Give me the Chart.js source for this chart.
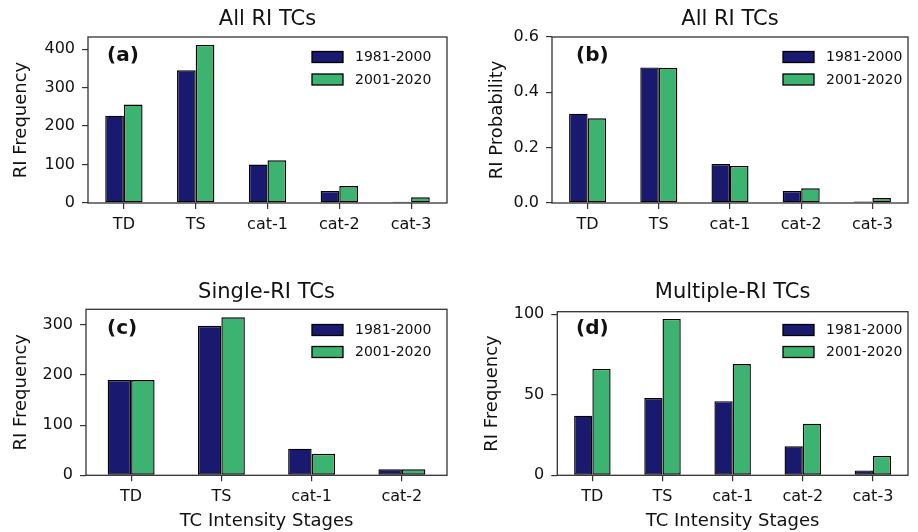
<!DOCTYPE html>
<html>
<head>
<meta charset="utf-8">
<script src="https://cdn.jsdelivr.net/npm/chart.js@4.4.0/dist/chart.umd.min.js"></script>
<style>
  body { margin: 0; background: #fff; }
  #wrap { position: relative; width: 918px; height: 532px; }
  #wrap canvas { position: absolute; }
</style>
</head>
<body>
<div id="wrap">
  <canvas id="panelA" width="460" height="266" style="left:0;top:0"></canvas>
  <canvas id="panelB" width="458" height="266" style="left:460px;top:0"></canvas>
  <canvas id="panelC" width="460" height="266" style="left:0;top:266px"></canvas>
  <canvas id="panelD" width="458" height="266" style="left:460px;top:266px"></canvas>
</div>
<script>
// data
const stages = ['TD', 'TS', 'cat-1', 'cat-2', 'cat-3'];
const stagesSingle = ['TD', 'TS', 'cat-1', 'cat-2'];
const periods = ['1981-2000', '2001-2020'];

const allFreq1981 = [227, 345, 100, 31, 3];
const allFreq2001 = [256, 411, 111, 44, 15];

const allProb1981 = [0.323, 0.490, 0.141, 0.043, 0.005];
const allProb2001 = [0.306, 0.489, 0.134, 0.053, 0.018];

const singleFreq1981 = [190, 298, 53, 12];
const singleFreq2001 = [190, 315, 43, 12];

const multiFreq1981 = [37, 48, 46, 18, 3];
const multiFreq2001 = [66, 97, 69, 32, 12];

// y tick values per panel
const allFreqTicks = [0, 100, 200, 300, 400];
const allProbTicks = [0, 0.2, 0.4, 0.6];
const singleTicks = [0, 100, 200, 300];
const multiTicks = [0, 50, 100];

const navy = '#191970';
const green = '#3cb371';

Chart.defaults.font.family = '"DejaVu Sans", sans-serif';
Chart.defaults.color = '#111';

// frame, panel tag and legend drawn inside the axes
const decor = {
    id: 'decor',
    afterDraw(chart, args, opts) {
        const ctx = chart.ctx;
        const a = chart.chartArea;
        ctx.save();
        ctx.strokeStyle = '#333';
        ctx.lineWidth = 1.3;
        ctx.strokeRect(a.left, a.top, a.right - a.left, a.bottom - a.top);

        ctx.fillStyle = '#111';
        ctx.textAlign = 'left';
        ctx.textBaseline = 'middle';
        ctx.font = 'bold 20px "DejaVu Sans"';
        ctx.fillText(opts.tag, opts.tagX, opts.tagY);

        ctx.font = '14px "DejaVu Sans"';
        chart.data.datasets.forEach((ds, i) => {
            const y = opts.legendY[i];
            ctx.fillStyle = ds.backgroundColor;
            ctx.fillRect(opts.legendX, y - 5.5, 31, 11);
            ctx.strokeStyle = '#000';
            ctx.lineWidth = 1.3;
            ctx.strokeRect(opts.legendX, y - 5.5, 31, 11);
            ctx.fillStyle = '#111';
            ctx.fillText(ds.label, opts.legendX + 43, y + 0.5);
        });
        ctx.restore();
    }
};

function makePanel(id, p) {
    const ctx = document.getElementById(id).getContext('2d');
    return new Chart(ctx, {
        type: 'bar',
        data: {
            labels: p.labels,
            datasets: [
                { label: periods[0], data: p.first, backgroundColor: navy },
                { label: periods[1], data: p.second, backgroundColor: green }
            ]
        },
        options: {
            responsive: false,
            animation: false,
            devicePixelRatio: 1,
            categoryPercentage: 0.52,
            barPercentage: 1.0,
            datasets: {
                bar: { borderColor: '#000', borderWidth: 1.4, borderSkipped: false }
            },
            layout: { padding: { left: 0, right: p.padRight, top: 0, bottom: 0 } },
            scales: {
                x: {
                    offset: true,
                    grid: { display: true, drawOnChartArea: false, drawTicks: true, tickLength: 6, offset: false, color: '#333', lineWidth: 1.2 },
                    border: { display: false },
                    ticks: { font: { size: 16 }, padding: 6, color: '#111' },
                    title: { display: !!p.xTitle, text: p.xTitle || '', font: { size: 18 }, padding: { top: 0, bottom: 0 }, color: '#111' },
                    afterFit: (s) => { s.height = p.xHeight; }
                },
                y: {
                    min: 0,
                    max: p.yMax,
                    grid: { display: true, drawOnChartArea: false, drawTicks: true, tickLength: 6, color: '#333', lineWidth: 1.2 },
                    border: { display: false },
                    ticks: {
                        font: { size: 16 },
                        padding: 7,
                        color: '#111',
                        callback: p.yFormat
                    },
                    afterBuildTicks: (s) => { s.ticks = p.yTicks.map(v => ({ value: v })); },
                    title: { display: true, text: p.yTitle, font: { size: 18 }, padding: { top: p.yTitlePad, bottom: 0 }, color: '#111' },
                    afterFit: (s) => { s.width = p.yWidth; }
                }
            },
            plugins: {
                legend: { display: false },
                tooltip: { enabled: false },
                title: {
                    display: true,
                    text: p.title,
                    fullSize: false,
                    font: { size: 21, weight: 'normal' },
                    color: '#111',
                    padding: { top: p.titleTop, bottom: p.titleBottom }
                },
                decor: { tag: p.tag, tagX: p.tagX, tagY: p.tagY, legendX: p.legendX, legendY: p.legendY }
            }
        },
        plugins: [decor]
    });
}

document.addEventListener('DOMContentLoaded', function() {
    // (a) All RI TCs, frequency
    makePanel('panelA', {
        labels: stages, first: allFreq1981, second: allFreq2001,
        title: 'All RI TCs', yTitle: 'RI Frequency', tag: '(a)',
        yMax: 431.5, yTicks: allFreqTicks, yFormat: (v) => v,
        yWidth: 88, yTitlePad: 11, xHeight: 63, padRight: 13,
        titleTop: 6.8, titleBottom: 5,
        tagX: 107, tagY: 56, legendX: 312, legendY: [57, 79.5]
    });

    // (b) All RI TCs, probability
    makePanel('panelB', {
        labels: stages, first: allProb1981, second: allProb2001,
        title: 'All RI TCs', yTitle: 'RI Probability', tag: '(b)',
        yMax: 0.6, yTicks: allProbTicks, yFormat: (v) => v.toFixed(1),
        yWidth: 92, yTitlePad: 27, xHeight: 63, padRight: 10,
        titleTop: 6.8, titleBottom: 5,
        tagX: 116, tagY: 56, legendX: 323, legendY: [57, 79.5]
    });

    // (c) Single-RI TCs
    makePanel('panelC', {
        labels: stagesSingle, first: singleFreq1981, second: singleFreq2001,
        title: 'Single-RI TCs', yTitle: 'RI Frequency', tag: '(c)',
        xTitle: 'TC Intensity Stages',
        yMax: 331, yTicks: singleTicks, yFormat: (v) => v,
        yWidth: 86, yTitlePad: 11, xHeight: 56.7, padRight: 13,
        titleTop: 14.3, titleBottom: 3.8,
        tagX: 107, tagY: 62.5, legendX: 312, legendY: [64, 86]
    });

    // (d) Multiple-RI TCs
    makePanel('panelD', {
        labels: stages, first: multiFreq1981, second: multiFreq2001,
        title: 'Multiple-RI TCs', yTitle: 'RI Frequency', tag: '(d)',
        xTitle: 'TC Intensity Stages',
        yMax: 101.5, yTicks: multiTicks, yFormat: (v) => v,
        yWidth: 97.3, yTitlePad: 22, xHeight: 56.7, padRight: 10,
        titleTop: 14.3, titleBottom: 6.2,
        tagX: 116, tagY: 62.5, legendX: 323, legendY: [64, 86]
    });
});
</script>
</body>
</html>
